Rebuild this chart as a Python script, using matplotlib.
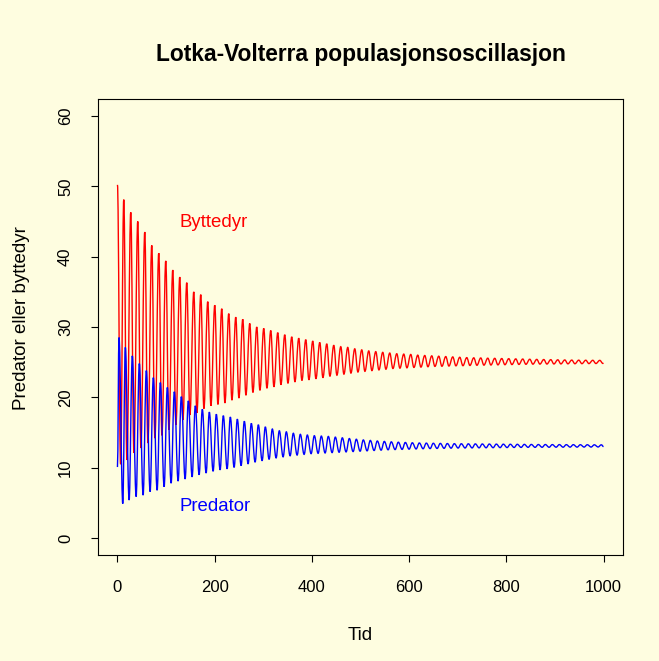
import numpy as np
import matplotlib
matplotlib.use("Agg")
import matplotlib.pyplot as plt
from matplotlib.path import Path
from matplotlib.patches import PathPatch

# extrema of each oscillation cycle
# cycle 0 starts at t=0, later red peaks follow every ~14.4 time units
byttedyr_topp = [50.2, 48.1, 46.3, 45.0, 43.5, 41.6, 40.5, 39.4, 38.1, 37.1,
                 36.3, 35.0, 34.6, 33.6, 33.1, 32.6, 31.9, 31.4, 31.1, 30.5,
                 30.0, 29.8, 29.5, 29.2, 28.9, 28.6, 28.4, 28.2, 28.0, 27.8,
                 27.6, 27.4, 27.2, 27.1, 26.9, 26.75, 26.6, 26.5, 26.4, 26.3,
                 26.2, 26.15, 26.1, 26.0, 25.95, 25.9, 25.85, 25.8, 25.75, 25.7,
                 25.65, 25.62, 25.6, 25.57, 25.55, 25.52, 25.5, 25.47, 25.45, 25.42,
                 25.4, 25.38, 25.36, 25.34, 25.32, 25.3, 25.29, 25.28, 25.27, 25.26]
byttedyr_bunn = [10.5, 11.1, 12.1, 12.8, 13.5, 14.2, 14.6, 15.4, 16.1, 16.8,
                 17.5, 17.8, 18.4, 18.8, 19.0, 19.2, 19.6, 19.9, 20.3, 20.7,
                 21.0, 21.3, 21.5, 21.8, 22.0, 22.2, 22.4, 22.5, 22.65, 22.8,
                 23.0, 23.15, 23.3, 23.45, 23.6, 23.7, 23.8, 23.9, 24.0, 24.1,
                 24.15, 24.2, 24.25, 24.3, 24.35, 24.4, 24.42, 24.45, 24.48, 24.5,
                 24.53, 24.56, 24.58, 24.6, 24.62, 24.64, 24.66, 24.68, 24.7, 24.72,
                 24.73, 24.74, 24.75, 24.76, 24.77, 24.78, 24.79, 24.8, 24.81, 24.82]
predator_topp = [28.5, 27.1, 25.9, 24.8, 23.8, 22.8, 22.1, 21.4, 20.8, 20.1,
                 19.5, 18.8, 18.3, 17.9, 17.6, 17.4, 17.2, 16.9, 16.6, 16.3,
                 16.1, 15.8, 15.5, 15.25, 15.1, 14.9, 14.75, 14.65, 14.55, 14.5,
                 14.45, 14.35, 14.25, 14.15, 14.05, 13.95, 13.88, 13.8, 13.74, 13.68,
                 13.63, 13.59, 13.55, 13.52, 13.5, 13.48, 13.46, 13.44, 13.42, 13.41,
                 13.4, 13.39, 13.38, 13.37, 13.36, 13.35, 13.34, 13.33, 13.32, 13.31,
                 13.3, 13.3, 13.29, 13.29, 13.28, 13.28, 13.27, 13.27, 13.26, 13.26]
predator_bunn = [4.9, 5.4, 5.9, 6.1, 6.6, 6.8, 7.3, 7.8, 8.1, 8.4,
                 8.7, 9.0, 9.25, 9.5, 9.7, 9.85, 10.05, 10.3, 10.55, 10.8,
                 11.0, 11.2, 11.4, 11.55, 11.7, 11.8, 11.9, 12.0, 12.05, 12.1,
                 12.15, 12.2, 12.25, 12.3, 12.35, 12.4, 12.45, 12.5, 12.55, 12.58,
                 12.61, 12.64, 12.67, 12.7, 12.72, 12.74, 12.76, 12.78, 12.8, 12.81,
                 12.82, 12.83, 12.84, 12.85, 12.86, 12.87, 12.88, 12.89, 12.9, 12.9,
                 12.91, 12.91, 12.92, 12.92, 12.93, 12.93, 12.94, 12.94, 12.95, 12.95]
start_predator = 10.1
slutt_byttedyr = 24.85
slutt_predator = 13.0
t_slutt = 1000.0

periode = 14.4
forste_topp = 13.0

x_ticks = [0, 200, 400, 600, 800, 1000]
y_ticks = [0, 10, 20, 30, 40, 50, 60]

bg = "#FEFDE0"
plt.rcParams['font.family'] = ['Liberation Sans', 'DejaVu Sans']


def serie(t, verdier, slutt):
    t = np.asarray(t)
    verdier = np.asarray(verdier)
    o = np.argsort(t)
    t, verdier = t[o], verdier[o]
    keep = t <= t_slutt
    return np.append(t[keep], t_slutt), np.append(verdier[keep], slutt)


def glatt_kurve(t, y):
    # smooth bezier between extrema, flat tangent at each turning point
    verts = [(t[0], y[0])]
    codes = [Path.MOVETO]
    for i in range(1, len(t)):
        dx = t[i] - t[i - 1]
        verts += [(t[i - 1] + 0.38 * dx, y[i - 1]),
                  (t[i] - 0.38 * dx, y[i]),
                  (t[i], y[i])]
        codes += [Path.CURVE4] * 3
    return Path(verts, codes)


k = np.arange(len(byttedyr_topp))
t_topp = np.where(k == 0, 0.0, forste_topp + (k - 1) * periode)

tb, yb = serie(np.concatenate([t_topp, t_topp + 6.5]),
               np.concatenate([byttedyr_topp, byttedyr_bunn]), slutt_byttedyr)
tp, yp = serie(np.concatenate([[0.0], t_topp + 3.2, t_topp + 11.0]),
               np.concatenate([[start_predator], predator_topp, predator_bunn]),
               slutt_predator)

fig = plt.figure(figsize=(6.59, 6.61), dpi=100, facecolor=bg)
ax = fig.add_axes([98 / 659, 1 - 555 / 661, 525 / 659, 456 / 661])
ax.set_facecolor(bg)

ax.add_patch(PathPatch(glatt_kurve(tb, yb), facecolor='none', edgecolor='red', lw=1.0))
ax.add_patch(PathPatch(glatt_kurve(tp, yp), facecolor='none', edgecolor='blue', lw=1.0))

ax.text(198, 44.9, "Byttedyr", color='red', fontsize=13.4, ha='center', va='center')
ax.text(200, 4.5, "Predator", color='blue', fontsize=13.4, ha='center', va='center')

ax.set_xlim(-40, 1040)
ax.set_ylim(-2.4, 62.4)
ax.set_xticks(x_ticks)
ax.set_yticks(y_ticks)
ax.set_yticklabels([str(v) for v in y_ticks], rotation=90, va='center')
ax.tick_params(direction='out', length=5, width=0.8, labelsize=12, pad=13)
for s in ax.spines.values():
    s.set_linewidth(0.8)

fig.text(361 / 659, 1 - 55 / 661, "Lotka-Volterra populasjonsoscillasjon",
         ha='center', va='center', fontsize=16.4, fontweight='bold')
fig.text(360 / 659, 1 - 636 / 661, "Tid", ha='center', va='center', fontsize=13.5)
fig.text(22 / 659, 1 - 318 / 661, "Predator eller byttedyr", ha='center',
         va='center', rotation=90, fontsize=13.5)

fig.savefig("out.png", dpi=100, facecolor=bg)
